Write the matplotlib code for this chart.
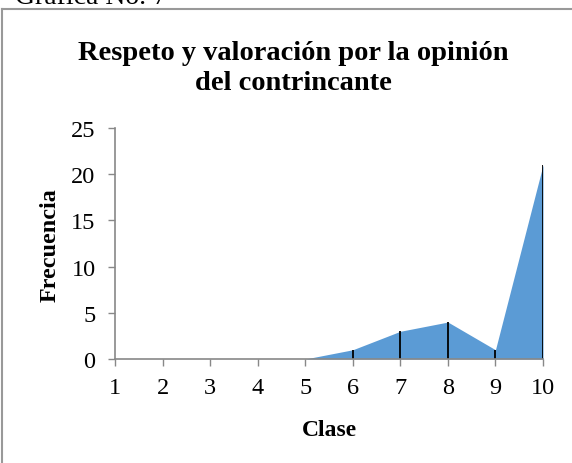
import numpy as np
import matplotlib.pyplot as plt
from matplotlib.lines import Line2D

clase = [1, 2, 3, 4, 5, 6, 7, 8, 9, 10]
frecuencia = [0, 0, 0, 0, 0, 1, 3, 4, 1, 21]
yticks = [0, 5, 10, 15, 20, 25]

plt.rcParams['font.family'] = ['Liberation Serif', 'DejaVu Serif']

W, H = 572, 464
fig = plt.figure(figsize=(W / 100, H / 100), dpi=100)
ax = fig.add_axes([115 / W, 1 - 360 / H, 428 / W, 231 / H])

ax.fill_between(clase, frecuencia, 0, color='#5B9BD5', linewidth=0)
ax.vlines(clase, 0, frecuencia, color='black', linewidth=1.3)

ax.set_xlim(1, 10)
ax.set_ylim(0, 25)
ax.set_xticks(clase)
ax.set_yticks(yticks)
ax.tick_params(labelsize=17.5, colors='#888888', length=5, width=1)
ax.tick_params(axis='x', pad=8)
ax.tick_params(axis='y', pad=9)
for lab in ax.get_xticklabels() + ax.get_yticklabels():
    lab.set_color('black')

for s in ['top', 'right']:
    ax.spines[s].set_visible(False)
for s in ['left', 'bottom']:
    ax.spines[s].set_color('#888888')
    ax.spines[s].set_linewidth(1.2)

# axis titles and chart title
fig.text(329 / W, 1 - 436 / H, 'Clase', fontsize=17, fontweight='bold',
         ha='center', va='baseline')
fig.text(50 / W, 1 - 245 / H, 'Frecuencia', fontsize=17.4, fontweight='bold',
         ha='center', va='center', rotation=90)
fig.text(293 / W, 1 - 59.5 / H, 'Respeto y valoración por la opinión',
         fontsize=20.5, fontweight='bold', ha='center', va='baseline')
fig.text(293 / W, 1 - 90 / H, 'del contrincante',
         fontsize=20.5, fontweight='bold', ha='center', va='baseline')

# frame of the chart box and the cut caption above it
fig.add_artist(Line2D([2 / W, 1], [1 - 10 / H, 1 - 10 / H], color='#999999', linewidth=1.5))
fig.add_artist(Line2D([2 / W, 2 / W], [0, 1 - 10 / H], color='#999999', linewidth=1.5))
fig.text(15 / W, 1 - 4 / H, 'Gráfica No. 7', fontsize=20, va='baseline', ha='left')

fig.savefig('out.png', dpi=100)
